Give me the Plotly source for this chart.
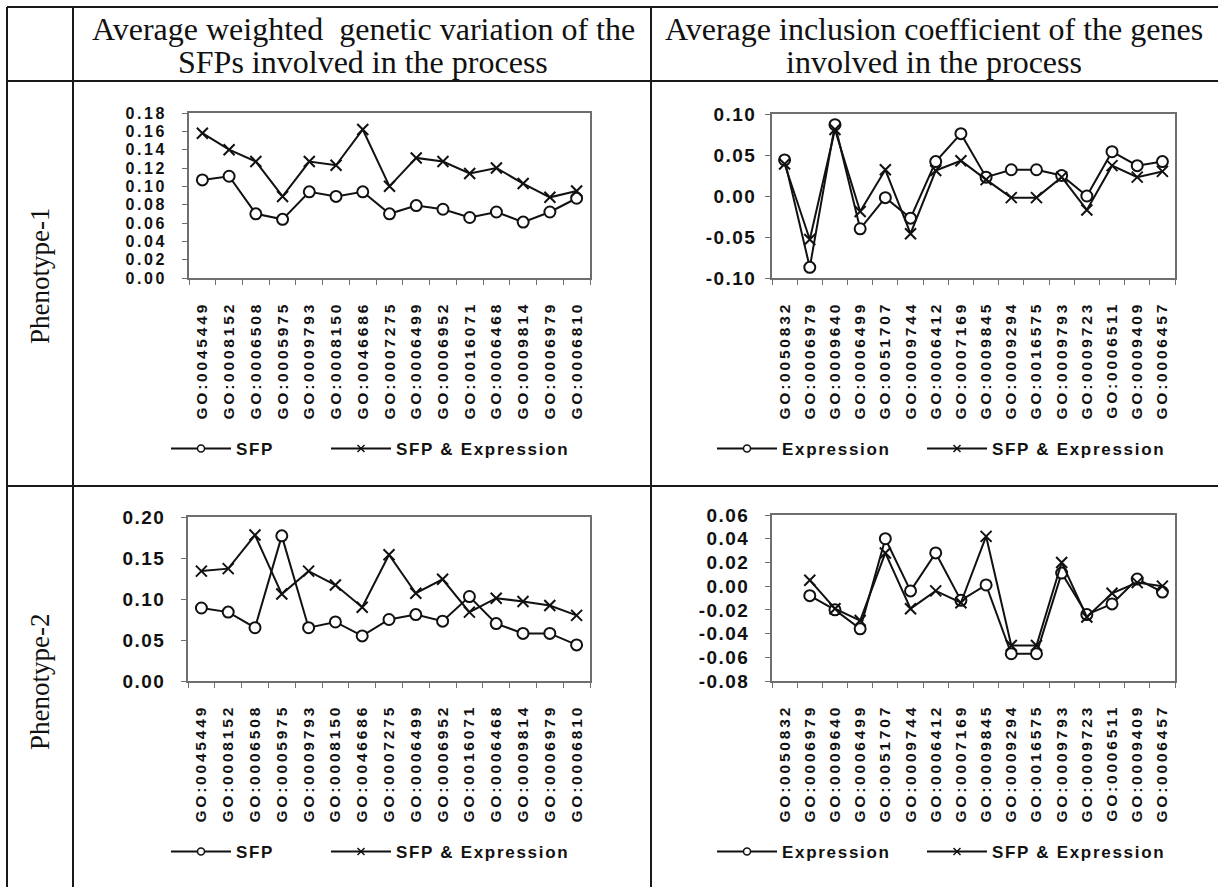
import plotly.graph_objects as go

# ---- data -------------------------------------------------------------
go_terms_sfp = ["GO:0045449", "GO:0008152", "GO:0006508", "GO:0005975", "GO:0009793",
                "GO:0008150", "GO:0046686", "GO:0007275", "GO:0006499", "GO:0006952",
                "GO:0016071", "GO:0006468", "GO:0009814", "GO:0006979", "GO:0006810"]
go_terms_incl = ["GO:0050832", "GO:0006979", "GO:0009640", "GO:0006499", "GO:0051707",
                 "GO:0009744", "GO:0006412", "GO:0007169", "GO:0009845", "GO:0009294",
                 "GO:0016575", "GO:0009793", "GO:0009723", "GO:0006511", "GO:0009409",
                 "GO:0006457"]

# Phenotype-1
p1_var_sfp = [0.107, 0.111, 0.070, 0.064, 0.094, 0.089, 0.094, 0.070, 0.079, 0.075,
              0.066, 0.072, 0.061, 0.072, 0.087]
p1_var_sfp_expr = [0.158, 0.140, 0.127, 0.089, 0.127, 0.123, 0.162, 0.100, 0.131, 0.127,
                   0.114, 0.120, 0.103, 0.088, 0.095]
p1_incl_expr = [0.044, -0.087, 0.087, -0.040, -0.002, -0.027, 0.042, 0.076, 0.023, 0.032,
                0.032, 0.025, 0.000, 0.054, 0.037, 0.042]
p1_incl_sfp_expr = [0.039, -0.053, 0.081, -0.019, 0.032, -0.046, 0.031, 0.043, 0.020, -0.002,
                    -0.002, 0.023, -0.017, 0.037, 0.023, 0.030]

# Phenotype-2
p2_var_sfp = [0.089, 0.084, 0.065, 0.177, 0.065, 0.072, 0.055, 0.075, 0.081, 0.073,
              0.103, 0.070, 0.058, 0.058, 0.044]
p2_var_sfp_expr = [0.134, 0.137, 0.178, 0.106, 0.134, 0.117, 0.090, 0.154, 0.107, 0.124,
                   0.084, 0.101, 0.097, 0.092, 0.080]
p2_incl_expr = [None, -0.008, -0.020, -0.036, 0.040, -0.004, 0.028, -0.012, 0.001, -0.057,
                -0.057, 0.011, -0.024, -0.015, 0.006, -0.005]
p2_incl_sfp_expr = [None, 0.005, -0.019, -0.029, 0.028, -0.019, -0.004, -0.014, 0.042, -0.050,
                    -0.050, 0.020, -0.026, -0.006, 0.003, 0.000]

header_left = ["Average weighted \u00a0genetic variation of the", "SFPs involved in the process"]
header_right = ["Average inclusion coefficient of the genes", "involved in the process"]
row_labels = ["Phenotype-1", "Phenotype-2"]

# ---- layout helpers ---------------------------------------------------
W, H = 1218, 887
SANS = "Liberation Sans"
SERIF = "Liberation Serif"
INK = "#111111"
FRAME = "#6e6e6e"


def px_x(v):
    return v / W


def px_y(v):
    return 1 - v / H


def spaced(text, sp):
    return f'<span style="letter-spacing:{sp}px">{text}</span>'


fig = go.Figure()

# panels: (axis suffix, categories, y range, y step, plot box px, series, legends,
#          y label gap, y label size, y label spacing)
panels = [
    ("", go_terms_sfp, (0.0, 0.18), 0.02, (189, 590, 113, 278),
     [("SFP", p1_var_sfp, "circle"), ("SFP & Expression", p1_var_sfp_expr, "x")],
     ("legend", "legend2"), 12, 16, 2.6),
    ("2", go_terms_incl, (-0.10, 0.10), 0.05, (772, 1175, 114, 278),
     [("Expression", p1_incl_expr, "circle"), ("SFP & Expression", p1_incl_sfp_expr, "x")],
     ("legend3", "legend4"), 5, 19, 1.5),
    ("3", go_terms_sfp, (0.0, 0.20), 0.05, (188, 590, 517, 681),
     [("SFP", p2_var_sfp, "circle"), ("SFP & Expression", p2_var_sfp_expr, "x")],
     ("legend5", "legend6"), 12, 19, 1.5),
    ("4", go_terms_incl, (-0.08, 0.06), 0.02, (772, 1175, 515, 681),
     [("Expression", p2_incl_expr, "circle"), ("SFP & Expression", p2_incl_sfp_expr, "x")],
     ("legend7", "legend8"), 12, 19, 1.5),
]

legend_pos = {
    "legend": (166, 449), "legend2": (326, 449),
    "legend3": (712, 449), "legend4": (922, 449),
    "legend5": (166, 852), "legend6": (326, 852),
    "legend7": (712, 852), "legend8": (922, 852),
}

for ax, cats, yr, step, box, series, legs, standoff, ysize, yspace in panels:
    x0, x1, y0, y1 = box
    for (name, vals, sym), leg in zip(series, legs):
        if sym == "circle":
            marker = dict(symbol="circle", size=11, color="white",
                          line=dict(color=INK, width=2))
            lmarker = dict(symbol="circle", size=7, color="white",
                           line=dict(color=INK, width=1.5))
        else:
            marker = dict(symbol="x-thin", size=11, color=INK,
                          line=dict(color=INK, width=2))
            lmarker = dict(symbol="x-thin", size=7, color=INK,
                           line=dict(color=INK, width=1.5))
        fig.add_trace(go.Scatter(
            x=cats, y=vals, mode="lines+markers", name=name,
            line=dict(color=INK, width=2), marker=marker,
            xaxis="x" + ax, yaxis="y" + ax, showlegend=False,
            connectgaps=False, hoverinfo="x+y"))
        # legend key with a small symbol
        fig.add_trace(go.Scatter(
            x=[None], y=[None], mode="lines+markers",
            name=spaced(name, 1.7),
            line=dict(color=INK, width=2), marker=lmarker,
            xaxis="x" + ax, yaxis="y" + ax, showlegend=True, legend=leg))

    yticks = []
    v = yr[0]
    while v <= yr[1] + 1e-9:
        yticks.append(round(v, 4))
        v += step
    ytext = [spaced(f"{t:.2f}", yspace) for t in yticks]

    fig.update_layout({
        "xaxis" + ax: dict(
            domain=[px_x(x0), px_x(x1)], anchor="y" + ax, type="category",
            categoryorder="array", categoryarray=cats,
            range=[-0.5, len(cats) - 0.5],
            tickmode="array", tickvals=cats, ticktext=[spaced(c, 2.8) for c in cats],
            tickangle=-90, tickson="boundaries", ticks="outside", ticklen=5,
            tickcolor=FRAME, tickwidth=1.2, ticklabelstandoff=16,
            tickfont=dict(family=SANS, size=15.5, color=INK, weight="bold"),
            showline=True, mirror=True, linecolor=FRAME, linewidth=1.5,
            showgrid=False, zeroline=False, fixedrange=True, automargin=False),
        "yaxis" + ax: dict(
            domain=[px_y(y1), px_y(y0)], anchor="x" + ax,
            range=list(yr), tickmode="array", tickvals=yticks, ticktext=ytext,
            ticks="outside", ticklen=5, tickcolor=FRAME, tickwidth=1.2,
            ticklabelstandoff=standoff,
            tickfont=dict(family=SANS, size=ysize, color=INK, weight="bold"),
            showline=True, mirror=True, linecolor=FRAME, linewidth=1.5,
            showgrid=False, zeroline=False, fixedrange=True, automargin=False),
    })

for leg, (lx, ly) in legend_pos.items():
    fig.update_layout({leg: dict(
        x=px_x(lx), y=px_y(ly), xanchor="left", yanchor="middle",
        orientation="h", bgcolor="rgba(0,0,0,0)", borderwidth=0,
        itemwidth=60, itemclick=False, itemdoubleclick=False,
        font=dict(family=SANS, size=17, color=INK, weight="bold"))})

# ---- table grid -------------------------------------------------------
line_style = dict(color="#1a1a1a", width=2)
grid = [
    (7, 7, W, 7), (7, 81, W, 81), (7, 486, W, 486),
    (7, 7, 7, H), (73, 7, 73, H), (651, 7, 651, H),
]
for gx0, gy0, gx1, gy1 in grid:
    fig.add_shape(type="line", xref="paper", yref="paper",
                  x0=px_x(gx0), y0=px_y(gy0), x1=px_x(gx1), y1=px_y(gy1),
                  line=line_style, layer="above")

# ---- header and row labels -------------------------------------------
for cx, lines in ((363, header_left), (934, header_right)):
    for text, cy in zip(lines, (29, 62)):
        fig.add_annotation(x=px_x(cx), y=px_y(cy), xref="paper", yref="paper",
                           text=text, showarrow=False, xanchor="center",
                           yanchor="middle",
                           font=dict(family=SERIF, size=32, color=INK))

for text, cy in zip(row_labels, (276, 682)):
    fig.add_annotation(x=px_x(40), y=px_y(cy), xref="paper", yref="paper",
                       text=text, showarrow=False, textangle=-90,
                       xanchor="center", yanchor="middle",
                       font=dict(family=SERIF, size=27, color=INK))

fig.update_layout(
    width=W, height=H,
    margin=dict(l=0, r=0, t=0, b=0, pad=0, autoexpand=False),
    paper_bgcolor="white", plot_bgcolor="white", showlegend=True,
)

fig.write_html("out.html", config={"displayModeBar": False})
